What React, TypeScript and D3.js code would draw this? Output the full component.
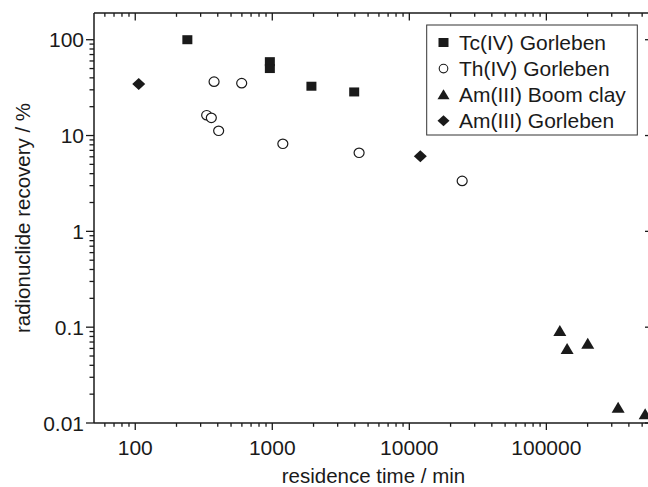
import React from "react";
import * as d3 from "d3";

const W = 648;
const H = 487;

// Data (residence time in min, recovery in %)
const tcTime = [240, 960, 960, 1930, 3960];
const tcRecovery = [100, 59, 50, 32.7, 28.5];

const thTime = [376, 598, 332, 359, 406, 1194, 4300, 24300];
const thRecovery = [36.5, 35.2, 16.3, 15.3, 11.2, 8.2, 6.6, 3.36];

const amBoomTime = [125400, 141700, 200400, 334000, 526000];
const amBoomRecovery = [0.091, 0.059, 0.067, 0.0144, 0.0123];

const amGorTime = [106, 12030];
const amGorRecovery = [34.6, 6.08];

const xTickValues = [100, 1000, 10000, 100000];
const xTickLabels = ["100", "1000", "10000", "100000"];
const yTickValues = [0.01, 0.1, 1, 10, 100];
const yTickLabels = ["0.01", "0.1", "1", "10", "100"];

const legendLabels = ["Tc(IV) Gorleben", "Th(IV) Gorleben", "Am(III) Boom clay", "Am(III) Gorleben"];

const FONT = "'Liberation Sans', Arial, Helvetica, sans-serif";
const INK = "#1a1a1a";

const left = 94, right = 653, top = 13, bottom = 423;

const x = d3.scaleLog().domain([50, 600000]).range([left, right]);
const y = d3.scaleLog().domain([0.01, 190]).range([bottom, top]);

const isMajor = (v: number, majors: number[]) => majors.some((m) => Math.abs(v / m - 1) < 1e-6);

function Square({ cx, cy }: { cx: number; cy: number }) {
  return <rect x={cx - 5} y={cy - 4.5} width={10} height={9} fill={INK} />;
}
function Circle({ cx, cy }: { cx: number; cy: number }) {
  return <ellipse cx={cx} cy={cy} rx={5} ry={4.7} fill="white" stroke={INK} strokeWidth={1.2} />;
}
function Triangle({ cx, cy, w = 13, h = 11 }: { cx: number; cy: number; w?: number; h?: number }) {
  return (
    <path
      d={`M${cx},${cy - h * 0.55} L${cx + w / 2},${cy + h * 0.45} L${cx - w / 2},${cy + h * 0.45} Z`}
      fill={INK}
    />
  );
}
function Diamond({ cx, cy, w = 13, h = 12 }: { cx: number; cy: number; w?: number; h?: number }) {
  return (
    <path
      d={`M${cx},${cy - h / 2} L${cx + w / 2},${cy} L${cx},${cy + h / 2} L${cx - w / 2},${cy} Z`}
      fill={INK}
    />
  );
}

export default function App() {
  const xMinor = x.ticks().filter((v) => !isMajor(v, xTickValues) && x(v) > left + 0.5 && x(v) < right - 0.5);
  const yMinor = y.ticks().filter((v) => !isMajor(v, yTickValues) && y(v) < bottom - 0.5 && y(v) > top + 0.5);

  const legX = 426.7, legY = 25, legW = 210.6, legH = 110;
  const legRowY = (i: number) => 42.5 + i * 26.1;
  const legSymX = 443.5;
  const legTextX = 459;

  return (
    <svg
      width={W}
      height={H}
      style={{ position: "absolute", left: 0, top: 0, background: "white" }}
      fontFamily={FONT}
    >
      <rect x={0} y={0} width={W} height={H} fill="white" />

      {/* Frame */}
      <g stroke={INK} strokeWidth={1.5} fill="none">
        <line x1={left} y1={bottom} x2={right} y2={bottom} />
        <line x1={left} y1={top} x2={right} y2={top} />
        <line x1={left} y1={top} x2={left} y2={bottom} />
        <line x1={right} y1={top} x2={right} y2={bottom} />
      </g>

      {/* X ticks: bottom outward, top inward */}
      <g stroke={INK} strokeWidth={1.3}>
        {xTickValues.map((v) => (
          <g key={"xM" + v}>
            <line x1={x(v)} x2={x(v)} y1={bottom} y2={bottom + 7} />
            <line x1={x(v)} x2={x(v)} y1={top} y2={top + 7.5} />
          </g>
        ))}
        {xMinor.map((v) => (
          <g key={"xm" + v}>
            <line x1={x(v)} x2={x(v)} y1={bottom} y2={bottom + 3.8} />
            <line x1={x(v)} x2={x(v)} y1={top} y2={top + 3.8} />
          </g>
        ))}
      </g>

      {/* Y ticks: left outward, right inward (major only) */}
      <g stroke={INK} strokeWidth={1.3}>
        {yTickValues.map((v) => (
          <g key={"yM" + v}>
            <line x1={left - 8} x2={left} y1={y(v)} y2={y(v)} />
            <line x1={right - 8} x2={right} y1={y(v)} y2={y(v)} />
          </g>
        ))}
        {yMinor.map((v) => (
          <line key={"ym" + v} x1={left - 4.5} x2={left} y1={y(v)} y2={y(v)} />
        ))}
      </g>

      {/* Tick labels */}
      <g fill={INK} fontSize={21}>
        {xTickValues.map((v, i) => (
          <text key={"xl" + v} x={x(v)} y={455} textAnchor="middle">
            {xTickLabels[i]}
          </text>
        ))}
        {yTickValues.map((v, i) => (
          <text key={"yl" + v} x={84} y={y(v)} dy="0.36em" textAnchor="end">
            {yTickLabels[i]}
          </text>
        ))}
      </g>

      {/* Axis titles */}
      <text x={(left + right) / 2} y={483} textAnchor="middle" fontSize={20.5} fill={INK}>
        residence time / min
      </text>
      <text
        transform={`translate(30,${(top + bottom) / 2}) rotate(-90)`}
        textAnchor="middle"
        fontSize={20.5}
        fill={INK}
      >
        radionuclide recovery / %
      </text>

      {/* Data */}
      <g>
        {tcTime.map((t, i) => (
          <Square key={"tc" + i} cx={x(t)} cy={y(tcRecovery[i])} />
        ))}
        {thTime.map((t, i) => (
          <Circle key={"th" + i} cx={x(t)} cy={y(thRecovery[i])} />
        ))}
        {amBoomTime.map((t, i) => (
          <Triangle key={"ab" + i} cx={x(t)} cy={y(amBoomRecovery[i])} />
        ))}
        {amGorTime.map((t, i) => (
          <Diamond key={"ag" + i} cx={x(t)} cy={y(amGorRecovery[i])} />
        ))}
      </g>

      {/* Legend */}
      <rect x={legX} y={legY} width={legW} height={legH} fill="white" stroke="#333" strokeWidth={1} />
      <Square cx={legSymX} cy={legRowY(0)} />
      <ellipse cx={legSymX} cy={legRowY(1)} rx={4.3} ry={4.3} fill="white" stroke={INK} strokeWidth={1.1} />
      <Triangle cx={legSymX} cy={legRowY(2)} w={12} h={10} />
      <Diamond cx={legSymX} cy={legRowY(3)} w={12} h={11} />
      {legendLabels.map((l, i) => (
        <text key={l} x={legTextX} y={legRowY(i)} dy="0.36em" fontSize={21} fill={INK}>
          {l}
        </text>
      ))}
    </svg>
  );
}
